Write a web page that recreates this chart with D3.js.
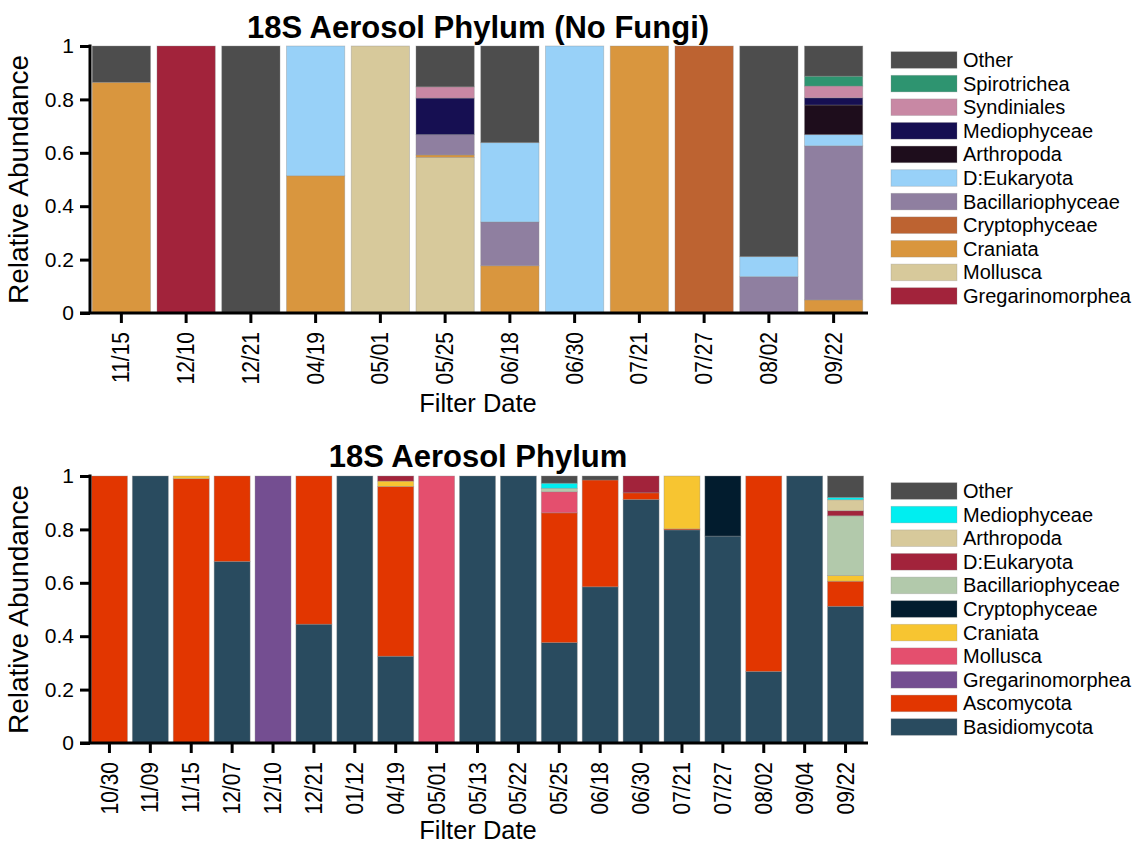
<!DOCTYPE html>
<html>
<head>
<meta charset="utf-8">
<script src="https://cdn.jsdelivr.net/npm/d3@7"></script>
<style>
  html, body { margin: 0; padding: 0; background: #fff; }
  svg { display: block; font-family: "Liberation Sans", Arial, sans-serif; }
</style>
</head>
<body>
<svg id="chart" width="1134" height="846"></svg>
<script>
// ---------- Panel 1: 18S Aerosol Phylum (No Fungi) ----------
const topDates = ["11/15", "12/10", "12/21", "04/19", "05/01", "05/25", "06/18", "06/30", "07/21", "07/27", "08/02", "09/22"];
// stack order, bottom to top
const topTaxa = ["Gregarinomorphea", "Mollusca", "Craniata", "Cryptophyceae", "Bacillariophyceae", "D:Eukaryota", "Arthropoda", "Mediophyceae", "Syndiniales", "Spirotrichea", "Other"];
const topColors = ["#a2233b", "#d7c99b", "#d9963e", "#bd6331", "#8f7fa0", "#98d1f8", "#1e0d1c", "#160f52", "#c888a4", "#2e9470", "#4d4d4d"];
const topGregarinomorphea  = [0,     1, 0, 0,     0, 0,     0,     0, 0, 0, 0,     0];
const topMollusca          = [0,     0, 0, 0,     1, 0.583, 0,     0, 0, 0, 0,     0];
const topCraniata          = [0.864, 0, 0, 0.514, 0, 0.009, 0.177, 0, 1, 0, 0,     0.049];
const topCryptophyceae     = [0,     0, 0, 0,     0, 0,     0,     0, 0, 1, 0,     0];
const topBacillariophyceae = [0,     0, 0, 0,     0, 0.076, 0.164, 0, 0, 0, 0.136, 0.577];
const topDEukaryota        = [0,     0, 0, 0.486, 0, 0,     0.297, 1, 0, 0, 0.075, 0.042];
const topArthropoda        = [0,     0, 0, 0,     0, 0,     0,     0, 0, 0, 0,     0.111];
const topMediophyceae      = [0,     0, 0, 0,     0, 0.137, 0,     0, 0, 0, 0,     0.027];
const topSyndiniales       = [0,     0, 0, 0,     0, 0.042, 0,     0, 0, 0, 0,     0.044];
const topSpirotrichea      = [0,     0, 0, 0,     0, 0,     0,     0, 0, 0, 0,     0.037];
const topOther             = [0.136, 0, 1, 0,     0, 0.153, 0.362, 0, 0, 0, 0.789, 0.113];
const topSeries = [topGregarinomorphea, topMollusca, topCraniata, topCryptophyceae, topBacillariophyceae,
  topDEukaryota, topArthropoda, topMediophyceae, topSyndiniales, topSpirotrichea, topOther];

// ---------- Panel 2: 18S Aerosol Phylum ----------
const botDates = ["10/30", "11/09", "11/15", "12/07", "12/10", "12/21", "01/12", "04/19", "05/01", "05/13", "05/22", "05/25", "06/18", "06/30", "07/21", "07/27", "08/02", "09/04", "09/22"];
const botTaxa = ["Basidiomycota", "Ascomycota", "Gregarinomorphea", "Mollusca", "Craniata", "Cryptophyceae", "Bacillariophyceae", "D:Eukaryota", "Arthropoda", "Mediophyceae", "Other"];
const botColors = ["#294b5f", "#e23600", "#744e91", "#e44f6e", "#f7c531", "#021c2e", "#b2c9ab", "#a2233b", "#d7c99b", "#00eef0", "#4d4d4d"];
const botBasidiomycota     = [0, 1, 0,    0.68, 0, 0.445, 1, 0.325, 0, 1, 1, 0.376, 0.585, 0.912, 0.798, 0.775, 0.268, 1, 0.512];
const botAscomycota        = [1, 0, 0.99, 0.32, 0, 0.555, 0, 0.636, 0, 0, 0, 0.486, 0.4,   0.025, 0.004, 0,     0.732, 0, 0.094];
const botGregarinomorphea  = [0, 0, 0,    0,    1, 0,     0, 0,     0, 0, 0, 0,     0,     0,     0,     0,     0,     0, 0];
const botMollusca          = [0, 0, 0,    0,    0, 0,     0, 0,     1, 0, 0, 0.079, 0,     0,     0,     0,     0,     0, 0];
const botCraniata          = [0, 0, 0.01, 0,    0, 0,     0, 0.02,  0, 0, 0, 0,     0,     0,     0.198, 0,     0,     0, 0.021];
const botCryptophyceae     = [0, 0, 0,    0,    0, 0,     0, 0,     0, 0, 0, 0,     0,     0,     0,     0.225, 0,     0, 0];
const botBacillariophyceae = [0, 0, 0,    0,    0, 0,     0, 0,     0, 0, 0, 0.013, 0,     0,     0,     0,     0,     0, 0.224];
const botDEukaryota        = [0, 0, 0,    0,    0, 0,     0, 0.019, 0, 0, 0, 0,     0,     0.063, 0,     0,     0,     0, 0.019];
const botArthropoda        = [0, 0, 0,    0,    0, 0,     0, 0,     0, 0, 0, 0,     0,     0,     0,     0,     0,     0, 0.041];
const botMediophyceae      = [0, 0, 0,    0,    0, 0,     0, 0,     0, 0, 0, 0.019, 0,     0,     0,     0,     0,     0, 0.009];
const botOther             = [0, 0, 0,    0,    0, 0,     0, 0,     0, 0, 0, 0.027, 0.015, 0,     0,     0,     0,     0, 0.08];
const botSeries = [botBasidiomycota, botAscomycota, botGregarinomorphea, botMollusca, botCraniata, botCryptophyceae,
  botBacillariophyceae, botDEukaryota, botArthropoda, botMediophyceae, botOther];

const yTicks = [0, 0.2, 0.4, 0.6, 0.8, 1];
const yTickFormat = d => d === 0 ? "0" : d === 1 ? "1" : String(d);

const svg = d3.select("#chart");
svg.append("rect").attr("width", 1134).attr("height", 846).attr("fill", "#fff");

function drawPanel(opts) {
  const { dates, taxa, colors, series, title, titleSize, titleY, top, bottom, left, right,
          legendY, padInner, xTitleY } = opts;
  const g = svg.append("g");

  const rows = dates.map((d, i) => {
    const r = { date: d };
    taxa.forEach((t, k) => { r[t] = series[k][i]; });
    return r;
  });
  const stacked = d3.stack().keys(taxa)(rows);

  const x = d3.scaleBand().domain(dates).range([left - 1, right])
    .paddingInner(padInner).paddingOuter(padInner / 2);
  const y = d3.scaleLinear().domain([0, 1]).range([bottom, top]);

  // stacked bars
  g.selectAll("g.layer").data(stacked).join("g")
    .attr("class", "layer")
    .attr("fill", (d, k) => colors[k])
    .selectAll("rect").data(d => d.filter(s => s[1] - s[0] > 0)).join("rect")
    .attr("x", d => x(d.data.date))
    .attr("width", x.bandwidth())
    .attr("y", d => y(d[1]))
    .attr("height", d => y(d[0]) - y(d[1]))
    .attr("stroke", "rgba(140,140,140,0.45)")
    .attr("stroke-width", 0.8);

  // y axis
  const yAxis = g.append("g").attr("transform", `translate(${left},0)`)
    .call(d3.axisLeft(y).tickValues(yTicks).tickFormat(yTickFormat).tickSize(10).tickPadding(6));
  yAxis.select(".domain").attr("stroke", "#000").attr("stroke-width", 3)
    .attr("d", `M0,${top - 1.5}V${bottom}`);
  yAxis.selectAll(".tick line").attr("stroke", "#000").attr("stroke-width", 3);
  yAxis.selectAll(".tick text").attr("font-size", 21).attr("fill", "#000")
    .attr("font-family", "Liberation Sans, Arial, sans-serif");

  // x axis
  const xAxis = g.append("g").attr("transform", `translate(0,${bottom})`)
    .call(d3.axisBottom(x).tickSize(10).tickPadding(0));
  xAxis.select(".domain").attr("stroke", "#000").attr("stroke-width", 3)
    .attr("d", `M${left - 10},0H${right + 2}`);
  xAxis.selectAll(".tick line").attr("stroke", "#000").attr("stroke-width", 3);
  xAxis.selectAll(".tick text")
    .attr("font-size", 21).attr("fill", "#000")
    .attr("font-family", "Liberation Sans, Arial, sans-serif")
    .attr("text-anchor", "end")
    .attr("transform", "translate(0,19) rotate(-90) scale(1,1.1)")
    .attr("x", 0).attr("y", 0).attr("dy", "0.35em");

  // axis titles
  g.append("text")
    .attr("x", (left + right) / 2).attr("y", xTitleY)
    .attr("text-anchor", "middle").attr("font-size", 25.5).attr("fill", "#000")
    .text("Filter Date");
  g.append("text")
    .attr("transform", `translate(28,${(top + bottom) / 2}) rotate(-90)`)
    .attr("text-anchor", "middle").attr("font-size", 28).attr("fill", "#000")
    .text("Relative Abundance");

  // chart title
  g.append("text")
    .attr("x", (left + right) / 2).attr("y", titleY)
    .attr("text-anchor", "middle").attr("font-size", titleSize).attr("font-weight", "bold").attr("fill", "#000")
    .text(title);

  // legend, listed top layer first
  const legendItems = taxa.map((t, k) => ({ name: t, color: colors[k] })).reverse();
  const lg = g.append("g").selectAll("g").data(legendItems).join("g")
    .attr("transform", (d, i) => `translate(891,${legendY + i * 23.6})`);
  lg.append("rect").attr("x", 0).attr("y", -8.3).attr("width", 66).attr("height", 16.6)
    .attr("fill", d => d.color).attr("stroke", "rgba(140,140,140,0.35)").attr("stroke-width", 0.8);
  lg.append("text").attr("x", 72).attr("y", 0).attr("dy", "0.35em")
    .attr("font-size", 20).attr("fill", "#000").text(d => d.name);
}

drawPanel({
  dates: topDates, taxa: topTaxa, colors: topColors, series: topSeries,
  title: "18S Aerosol Phylum (No Fungi)", titleSize: 31, titleY: 38,
  top: 46, bottom: 313, left: 90, right: 866, legendY: 60, padInner: 0.1, xTitleY: 412
});

drawPanel({
  dates: botDates, taxa: botTaxa, colors: botColors, series: botSeries,
  title: "18S Aerosol Phylum", titleSize: 31, titleY: 467,
  top: 476, bottom: 743, left: 90, right: 866, legendY: 491, padInner: 0.12, xTitleY: 839
});
</script>
</body>
</html>
